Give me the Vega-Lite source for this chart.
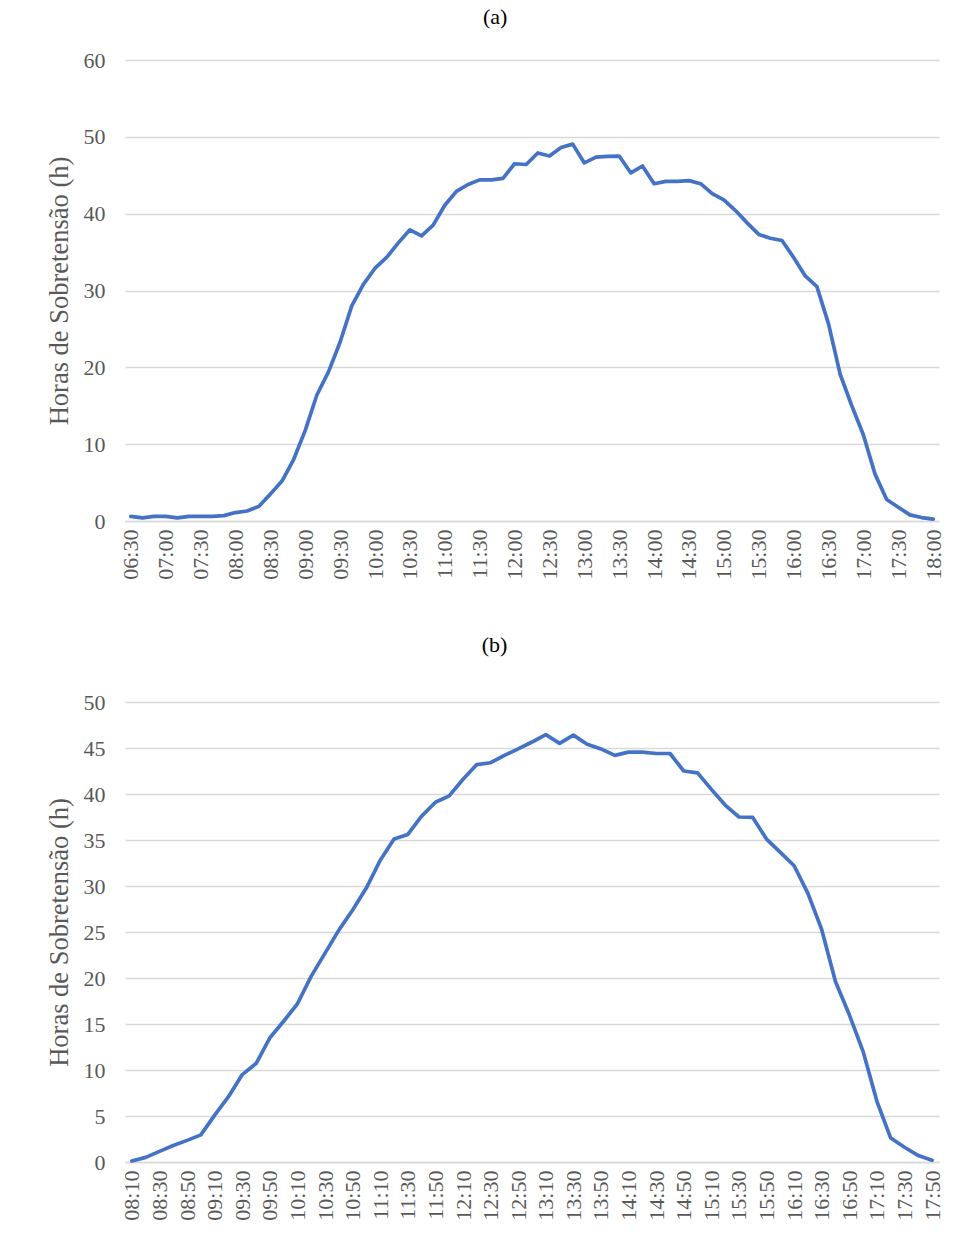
{
  "$schema": "https://vega.github.io/schema/vega-lite/v6.json",
  "padding": {"left": 46, "top": 6, "right": 16, "bottom": 0},
  "background": "white",
  "config": {
    "font": "Liberation Serif",
    "view": {"stroke": null},
    "axis": {
      "labelFont": "Liberation Serif",
      "titleFont": "Liberation Serif",
      "labelFontSize": 22,
      "labelColor": "#595959",
      "titleColor": "#595959",
      "titleFontSize": 26.5,
      "titleFontWeight": "normal",
      "ticks": false,
      "gridColor": "#d9d9d9",
      "gridWidth": 1.5
    },
    "axisY": {"domain": false, "labelPadding": 20, "titlePadding": 10},
    "axisX": {"domainColor": "#d9d9d9", "domainWidth": 1.5, "grid": false, "labelAngle": 270, "labelAlign": "right", "labelBaseline": "middle", "labelPadding": 8, "labelOverlap": false},
    "title": {"font": "Liberation Serif", "fontSize": 22, "fontWeight": "normal", "color": "#000000", "frame": "bounds", "anchor": "middle"}
  },
  "datasets": {
    "a": [
      {"t": "06:30", "h": 0.6}, {"t": "06:40", "h": 0.4}, {"t": "06:50", "h": 0.6}, {"t": "07:00", "h": 0.6},
      {"t": "07:10", "h": 0.4}, {"t": "07:20", "h": 0.6}, {"t": "07:30", "h": 0.6}, {"t": "07:40", "h": 0.6},
      {"t": "07:50", "h": 0.7}, {"t": "08:00", "h": 1.1}, {"t": "08:10", "h": 1.3}, {"t": "08:20", "h": 1.9},
      {"t": "08:30", "h": 3.5}, {"t": "08:40", "h": 5.2}, {"t": "08:50", "h": 8.0}, {"t": "09:00", "h": 11.8},
      {"t": "09:10", "h": 16.4}, {"t": "09:20", "h": 19.4}, {"t": "09:30", "h": 23.3}, {"t": "09:40", "h": 28.0},
      {"t": "09:50", "h": 30.8}, {"t": "10:00", "h": 32.9}, {"t": "10:10", "h": 34.3}, {"t": "10:20", "h": 36.2},
      {"t": "10:30", "h": 37.9}, {"t": "10:40", "h": 37.1}, {"t": "10:50", "h": 38.5}, {"t": "11:00", "h": 41.1},
      {"t": "11:10", "h": 42.9}, {"t": "11:20", "h": 43.8}, {"t": "11:30", "h": 44.4}, {"t": "11:40", "h": 44.4},
      {"t": "11:50", "h": 44.6}, {"t": "12:00", "h": 46.5}, {"t": "12:10", "h": 46.4}, {"t": "12:20", "h": 47.9},
      {"t": "12:30", "h": 47.5}, {"t": "12:40", "h": 48.6}, {"t": "12:50", "h": 49.05}, {"t": "13:00", "h": 46.6},
      {"t": "13:10", "h": 47.35}, {"t": "13:20", "h": 47.45}, {"t": "13:30", "h": 47.5}, {"t": "13:40", "h": 45.3},
      {"t": "13:50", "h": 46.2}, {"t": "14:00", "h": 43.9}, {"t": "14:10", "h": 44.2}, {"t": "14:20", "h": 44.2},
      {"t": "14:30", "h": 44.3}, {"t": "14:40", "h": 43.9}, {"t": "14:50", "h": 42.6}, {"t": "15:00", "h": 41.8},
      {"t": "15:10", "h": 40.4}, {"t": "15:20", "h": 38.8}, {"t": "15:30", "h": 37.3}, {"t": "15:40", "h": 36.8},
      {"t": "15:50", "h": 36.5}, {"t": "16:00", "h": 34.3}, {"t": "16:10", "h": 31.9}, {"t": "16:20", "h": 30.5},
      {"t": "16:30", "h": 25.65}, {"t": "16:40", "h": 19.1}, {"t": "16:50", "h": 15.0}, {"t": "17:00", "h": 11.2},
      {"t": "17:10", "h": 6.1}, {"t": "17:20", "h": 2.8}, {"t": "17:30", "h": 1.8}, {"t": "17:40", "h": 0.8},
      {"t": "17:50", "h": 0.45}, {"t": "18:00", "h": 0.25}
    ],
    "b": [
      {"t": "08:10", "h": 0.1}, {"t": "08:20", "h": 0.5}, {"t": "08:30", "h": 1.15}, {"t": "08:40", "h": 1.8},
      {"t": "08:50", "h": 2.35}, {"t": "09:00", "h": 2.95}, {"t": "09:10", "h": 5.1}, {"t": "09:20", "h": 7.1},
      {"t": "09:30", "h": 9.5}, {"t": "09:40", "h": 10.7}, {"t": "09:50", "h": 13.5}, {"t": "10:00", "h": 15.3},
      {"t": "10:10", "h": 17.2}, {"t": "10:20", "h": 20.2}, {"t": "10:30", "h": 22.7}, {"t": "10:40", "h": 25.2},
      {"t": "10:50", "h": 27.4}, {"t": "11:00", "h": 29.8}, {"t": "11:10", "h": 32.8}, {"t": "11:20", "h": 35.1},
      {"t": "11:30", "h": 35.6}, {"t": "11:40", "h": 37.6}, {"t": "11:50", "h": 39.1}, {"t": "12:00", "h": 39.8},
      {"t": "12:10", "h": 41.6}, {"t": "12:20", "h": 43.2}, {"t": "12:30", "h": 43.4}, {"t": "12:40", "h": 44.2},
      {"t": "12:50", "h": 44.9}, {"t": "13:00", "h": 45.65}, {"t": "13:10", "h": 46.45}, {"t": "13:20", "h": 45.5},
      {"t": "13:30", "h": 46.4}, {"t": "13:40", "h": 45.4}, {"t": "13:50", "h": 44.9}, {"t": "14:00", "h": 44.2},
      {"t": "14:10", "h": 44.55}, {"t": "14:20", "h": 44.55}, {"t": "14:30", "h": 44.4}, {"t": "14:40", "h": 44.4},
      {"t": "14:50", "h": 42.5}, {"t": "15:00", "h": 42.3}, {"t": "15:10", "h": 40.5}, {"t": "15:20", "h": 38.8},
      {"t": "15:30", "h": 37.5}, {"t": "15:40", "h": 37.45}, {"t": "15:50", "h": 35.1}, {"t": "16:00", "h": 33.65},
      {"t": "16:10", "h": 32.2}, {"t": "16:20", "h": 29.2}, {"t": "16:30", "h": 25.25}, {"t": "16:40", "h": 19.6},
      {"t": "16:50", "h": 16.0}, {"t": "17:00", "h": 12.0}, {"t": "17:10", "h": 6.6}, {"t": "17:20", "h": 2.6},
      {"t": "17:30", "h": 1.6}, {"t": "17:40", "h": 0.7}, {"t": "17:50", "h": 0.2}
    ]
  },
  "spacing": 54,
  "vconcat": [
    {
      "title": {"text": "(a)", "offset": 20},
      "data": {"name": "a"},
      "width": 814,
      "height": 461,
      "mark": {"type": "line", "color": "#4472C4", "strokeWidth": 3.7, "strokeJoin": "round", "strokeCap": "round"},
      "encoding": {
        "x": {"field": "t", "type": "ordinal", "sort": null, "scale": {"type": "point", "padding": 0.5},
          "axis": {"title": null, "values": ["06:30","07:00","07:30","08:00","08:30","09:00","09:30","10:00","10:30","11:00","11:30","12:00","12:30","13:00","13:30","14:00","14:30","15:00","15:30","16:00","16:30","17:00","17:30","18:00"]}},
        "y": {"field": "h", "type": "quantitative", "scale": {"domain": [0, 60], "nice": false},
          "axis": {"title": "Horas de Sobretensão (h)", "values": [0, 10, 20, 30, 40, 50, 60]}}
      }
    },
    {
      "title": {"text": "(b)", "offset": 34},
      "data": {"name": "b"},
      "width": 814,
      "height": 460,
      "mark": {"type": "line", "color": "#4472C4", "strokeWidth": 3.7, "strokeJoin": "round", "strokeCap": "round"},
      "encoding": {
        "x": {"field": "t", "type": "ordinal", "sort": null, "scale": {"type": "point", "padding": 0.5},
          "axis": {"title": null, "values": ["08:10","08:30","08:50","09:10","09:30","09:50","10:10","10:30","10:50","11:10","11:30","11:50","12:10","12:30","12:50","13:10","13:30","13:50","14:10","14:30","14:50","15:10","15:30","15:50","16:10","16:30","16:50","17:10","17:30","17:50"]}},
        "y": {"field": "h", "type": "quantitative", "scale": {"domain": [0, 50], "nice": false},
          "axis": {"title": "Horas de Sobretensão (h)", "values": [0, 5, 10, 15, 20, 25, 30, 35, 40, 45, 50]}}
      }
    }
  ]
}
